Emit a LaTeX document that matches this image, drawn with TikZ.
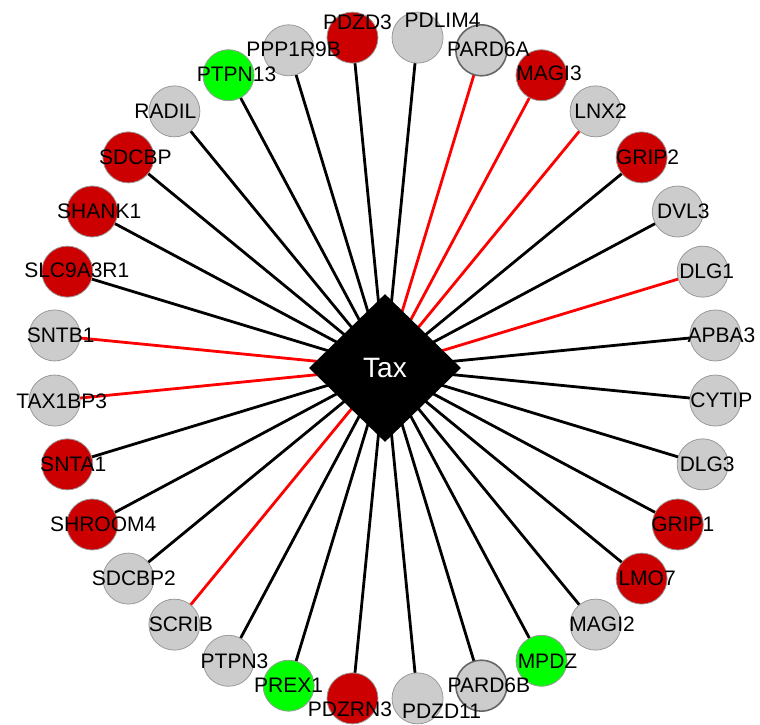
\documentclass[tikz,border=0pt]{standalone}
\usepackage{fontspec}
\setmainfont{Liberation Sans}
\usetikzlibrary{shapes.geometric,calc,backgrounds}
\definecolor{ngray}{HTML}{CCCCCC}
\definecolor{nred}{HTML}{CC0000}
\definecolor{ngreen}{HTML}{00FF00}
\definecolor{ered}{HTML}{FF0000}
\definecolor{bgray}{HTML}{9A9A9A}
\definecolor{bdark}{HTML}{666666}
\begin{document}
\begin{tikzpicture}[x=1pt,y=1pt,
  circ/.style={circle, minimum size=51pt, inner sep=0pt},
  lbl/.style={inner sep=0pt, font=\fontsize{21}{25}\selectfont, text=black},
  edgeline/.style={line width=2.8pt}]
\useasboundingbox (0,0) rectangle (760,724);
\coordinate (C) at (385,356);
\node[diamond, fill=black, minimum width=152pt, minimum height=148pt, inner sep=0pt,
      text=white, font=\fontsize{28}{32}\selectfont] (tax) at (C) {Tax};
\def\nodelist{0/APBA3/ngray/black/bgray/0.8/6/0,
1/DLG1/ngray/ered/bgray/0.8/4/0,
2/DVL3/ngray/black/bgray/0.8/5.5/0,
3/GRIP2/nred/black/bgray/0.8/6/0,
4/LNX2/ngray/ered/bgray/0.8/5/0,
5/MAGI3/nred/ered/bgray/0.8/7.5/1.5,
6/PARD6A/ngray/ered/bdark/1.6/7/1,
7/PDLIM4/ngray/black/bgray/0.8/25/17,
8/PDZD3/nred/black/bgray/0.8/5/15,
9/PPP1R9B/ngray/black/bgray/0.8/5/1,
10/PTPN13/ngreen/black/bgray/0.8/8/1,
11/RADIL/ngray/black/bgray/0.8/-9/0,
12/SDCBP/nred/black/bgray/0.8/7/0,
13/SHANK1/nred/black/bgray/0.8/7/0,
14/SLC9A3R1/nred/black/bgray/0.8/9.5/1,
15/SNTB1/ngray/ered/bgray/0.8/6/0,
16/TAX1BP3/ngray/ered/bgray/0.8/7/-1,
17/SNTA1/nred/black/bgray/0.8/6/0,
18/SHROOM4/nred/black/bgray/0.8/11/0,
19/SDCBP2/ngray/black/bgray/0.8/5.5/0,
20/SCRIB/ngray/ered/bgray/0.8/6.5/0,
21/PTPN3/ngray/black/bgray/0.8/6/0,
22/PREX1/ngreen/black/bgray/0.8/0/0,
23/PDZRN3/nred/black/bgray/0.8/-2.5/-11,
24/PDZD11/ngray/black/bgray/0.8/24/-13,
25/PARD6B/ngray/black/bdark/1.6/7.5/0,
26/MPDZ/ngreen/black/bgray/0.8/6/0,
27/MAGI2/ngray/black/bgray/0.8/6.5/0,
28/LMO7/nred/black/bgray/0.8/5.5/0,
29/GRIP1/nred/black/bgray/0.8/5/0,
30/DLG3/ngray/black/bgray/0.8/4.5/0,
31/CYTIP/ngray/black/bgray/0.8/6/0}
\foreach \k/\name/\fc/\ec/\bc/\bw/\dx/\dy in \nodelist {
  \node[circ, fill=\fc, draw=\bc, line width=\bw pt] (n\k) at ($(C)+({5.625+11.25*\k}:332)$) {};
  \begin{pgfonlayer}{background}
    \draw[edgeline, draw=\ec] (tax.center) -- (n\k.center);
  \end{pgfonlayer}
}
\foreach \k/\name/\fc/\ec/\bc/\bw/\dx/\dy in \nodelist {
  \node[lbl] (l\k) at ($(n\k)+(\dx,\dy)$) {\name};
}
\end{tikzpicture}
\end{document}
